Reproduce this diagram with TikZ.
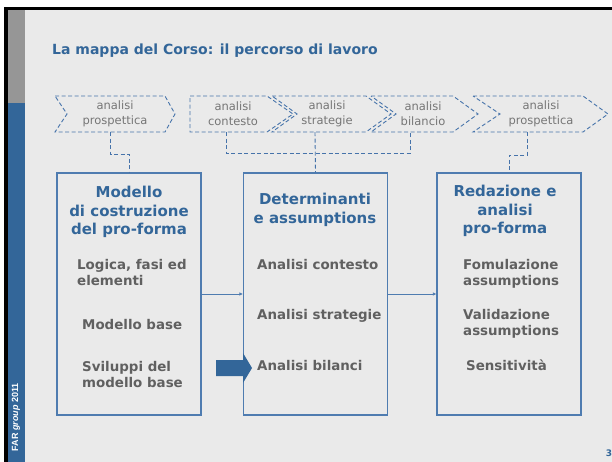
\documentclass[tikz,border=0pt]{standalone}
\usepackage{fontspec}
\setmainfont{DejaVu Sans}
\newfontfamily\farfont{Liberation Sans}
\definecolor{slideblue}{RGB}{51,102,153}
\definecolor{lineblue}{RGB}{79,124,176}
\definecolor{dashblue}{RGB}{70,115,170}
\definecolor{slidegray}{RGB}{234,234,234}
\definecolor{stripgray}{RGB}{150,150,150}
\definecolor{textgray}{RGB}{96,96,96}
\definecolor{chevgray}{RGB}{118,118,118}
\usetikzlibrary{
  arrows.meta,
  calc,
  positioning,
}
\tikzset{
  >={Latex[length=3.5pt,width=3.5pt]},
  dashline/.style={draw=dashblue,line width=0.9pt,dash pattern=on 4pt off 2.5pt},
  phase/.style={font=\fontsize{11.5}{15}\selectfont,text=chevgray,align=center,minimum height=36pt,inner sep=0pt},
  heading/.style={font=\fontsize{15}{18.5}\selectfont\bfseries,text=slideblue,align=center,inner sep=0pt,anchor=north},
  item/.style={font=\fontsize{13.4}{16}\selectfont\bfseries,text=textgray,align=left,inner sep=0pt,anchor=north west},
  block/.style={draw=lineblue,line width=1.2pt,rectangle,minimum width=144pt,minimum height=242pt},
}

\begin{document}
\begin{tikzpicture}[x=1pt,y=-1pt]

      % slide frame
      \useasboundingbox (0,0) rectangle (612,462);
      \fill[white] (0,0) rectangle (612,462);
      \fill[black] (4,7) rectangle (612,462);
      \fill[slidegray] (8,10) rectangle (612,462);
      \fill[stripgray] (8,10) rectangle (25,103);
      \fill[slideblue] (8,103) rectangle (25,462);
      \node[rotate=90,text=white,inner sep=0pt,font=\farfont\fontsize{9}{10}\selectfont\bfseries] (far) at (16,417) {FAR \textit{group} 2011};

      \node[anchor=base west,inner sep=0pt,text=slideblue,font=\fontsize{14}{17}\selectfont\bfseries] (title) at (52,55) {La mappa del Corso: il percorso di lavoro};

      % chevrons
      \draw[dashline] (55,96) -- (165,96) -- (175,114) -- (165,132) -- (55,132) -- (67,114) -- cycle;
      \draw[dashline] (190,96) -- (267,96) -- (293,114) -- (267,132) -- (190,132) -- cycle;
      \draw[dashline] (272,96) -- (366,96) -- (391,114) -- (366,132) -- (272,132) -- (297,114) -- cycle;
      \draw[dashline] (371,96) -- (453,96) -- (478,114) -- (453,132) -- (371,132) -- (396,114) -- cycle;
      \draw[dashline] (473,96) -- (583,96) -- (608,114) -- (583,132) -- (473,132) -- (500,114) -- cycle;

      \node[phase] (c1) at (115,114) {analisi\\prospettica};
      \node[phase] (c2) at (233,114) {analisi\\contesto};
      \node[phase] (c3) at (327,114) {analisi\\strategie};
      \node[phase] (c4) at (423,114) {analisi\\bilancio};
      \node[phase] (c5) at (541,114) {analisi\\prospettica};

      % boxes
      \node[block] (b1) at (129,294) {};
      \node[block] (b2) at (315.5,294) {};
      \node[block] (b3) at (509,294) {};

      \draw[dashline] ([xshift=-5pt]c1.south) -- ++(0,22) -| (b1.north);
      \draw[dashline] ([xshift=-7pt]c2.south) -- ++(0,21) -| ([xshift=-13pt]c4.south);
      \draw[dashline] ([xshift=-12pt]c3.south) -- (b2.north);
      \draw[dashline] ([xshift=-14pt]c5.south) -- ++(0,23) -| (b3.north);

      \draw[lineblue,line width=0.8pt,->] (b1.east) -- (b2.west);
      \draw[lineblue,line width=0.8pt,->] (b2.east) -- (b3.west);

      \fill[slideblue] (216,360) -- (243,360) -- (243,353) -- (252,368) -- (243,383) -- (243,376) -- (216,376) -- cycle;

      \node[heading] (h1) at (129,186) {Modello\\di costruzione\\del pro-forma};
      \node[heading] (h2) at (315,193) {Determinanti\\e assumptions};
      \node[heading] (h3) at (505,185) {Redazione e\\analisi\\pro-forma};

      \node[item] (i11) at (77,259) {Logica, fasi ed\\elementi};
      \node[item] (i12) at (82,319) {Modello base};
      \node[item] (i13) at (82,361) {Sviluppi del\\modello base};
      \node[item] (i21) at (257,259) {Analisi contesto};
      \node[item] (i22) at (257,309) {Analisi strategie};
      \node[item] (i23) at (257,360) {Analisi bilanci};
      \node[item] (i31) at (463,259) {Fomulazione\\assumptions};
      \node[item] (i32) at (463,309) {Validazione\\assumptions};
      \node[item] (i33) at (466,360) {Sensitività};

      \node[anchor=base,inner sep=0pt,text=slideblue,font=\fontsize{9}{10}\selectfont\bfseries] (page) at (609,456) {3};

    \end{tikzpicture}
\end{document}
